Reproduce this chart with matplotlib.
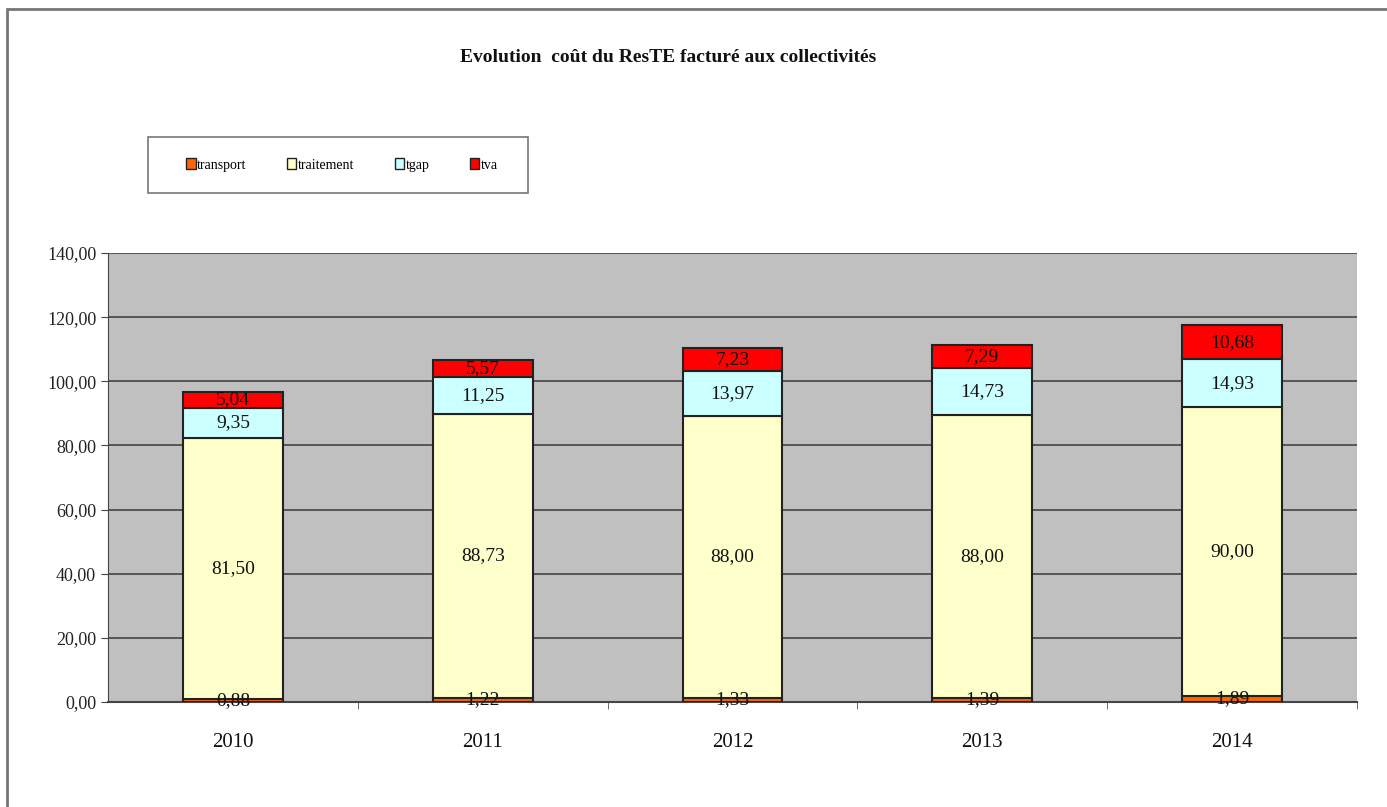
import matplotlib.pyplot as plt
import numpy as np
from matplotlib.patches import Patch, Rectangle

plt.rcParams['font.family'] = ['Liberation Serif', 'DejaVu Serif']

years = ['2010', '2011', '2012', '2013', '2014']
transport = [0.88, 1.22, 1.33, 1.39, 1.89]
traitement = [81.50, 88.73, 88.00, 88.00, 90.00]
tgap = [9.35, 11.25, 13.97, 14.73, 14.93]
tva = [5.04, 5.57, 7.23, 7.29, 10.68]

series = [('transport', transport, '#FF6600'),
          ('traitement', traitement, '#FFFFCC'),
          ('tgap', tgap, '#CCFFFF'),
          ('tva', tva, '#FF0000')]

W, H = 1387, 807
fig = plt.figure(figsize=(W / 100, H / 100), dpi=100)
ax = fig.add_axes([108 / W, 1 - 702 / H, (1357 - 108) / W, (702 - 253) / H])
ax.set_facecolor('#C0C0C0')

x = np.arange(len(years))
bottom = np.zeros(len(years))
for name, vals, col in series:
    vals = np.array(vals)
    ax.bar(x, vals, 0.4, bottom=bottom, color=col, edgecolor='#222222',
           linewidth=1.5, zorder=3, label=name)
    for xi, b, v in zip(x, bottom, vals):
        ax.text(xi, b + v / 2, f'{v:.2f}'.replace('.', ','), ha='center',
                va='center', fontsize=14, color='#111111', zorder=4)
    bottom += vals

ax.set_xlim(-0.5, 4.5)
ax.set_ylim(0, 140)
ax.set_yticks(np.arange(0, 141, 20))
ax.set_yticklabels([f'{v:.2f}'.replace('.', ',') for v in np.arange(0, 141, 20)],
                   fontsize=13, color='#222222')
ax.yaxis.grid(True, color='#444444', linewidth=1.2, zorder=1)
ax.set_xticks(x)
ax.set_xticklabels(years, fontsize=15, color='#111111')
ax.tick_params(axis='x', length=0, pad=22)
ax.set_xticks(np.arange(0.5, 4.6, 1), minor=True)
ax.tick_params(axis='x', which='minor', length=5, color='#555555')
ax.tick_params(axis='y', length=5, color='#444444', direction='out')
for s in ['top', 'right']:
    ax.spines[s].set_visible(False)
ax.spines['left'].set_color('#444444')
ax.spines['bottom'].set_color('#444444')
ax.spines['bottom'].set_linewidth(1.5)

fig.text(668 / W, 1 - 58 / H, 'Evolution  coût du ResTE facturé aux collectivités',
         ha='center', va='center', fontsize=14, fontweight='bold', color='#111111')

# legend box drawn separately so the padding can differ on each side
fig.patches.append(Rectangle((148 / W, 1 - 193 / H), 380 / W, 56 / H,
                             transform=fig.transFigure, fill=False,
                             edgecolor='#777777', linewidth=1.2))
handles = [Patch(facecolor=c, edgecolor='#222222', label=n) for n, _, c in series]
fig.legend(handles=handles, loc='center', ncol=4,
           bbox_to_anchor=(342 / W, 1 - 165 / H), fontsize=10,
           handlelength=0.7, handleheight=0.8, handletextpad=0.1,
           columnspacing=2.9, borderpad=0, frameon=False)

fig.patches.append(Rectangle((7 / W, -0.05), 1.2, 1 - 9 / H + 0.05,
                             transform=fig.transFigure, fill=False,
                             edgecolor='#777777', linewidth=2))

fig.savefig('out.png', dpi=100)
